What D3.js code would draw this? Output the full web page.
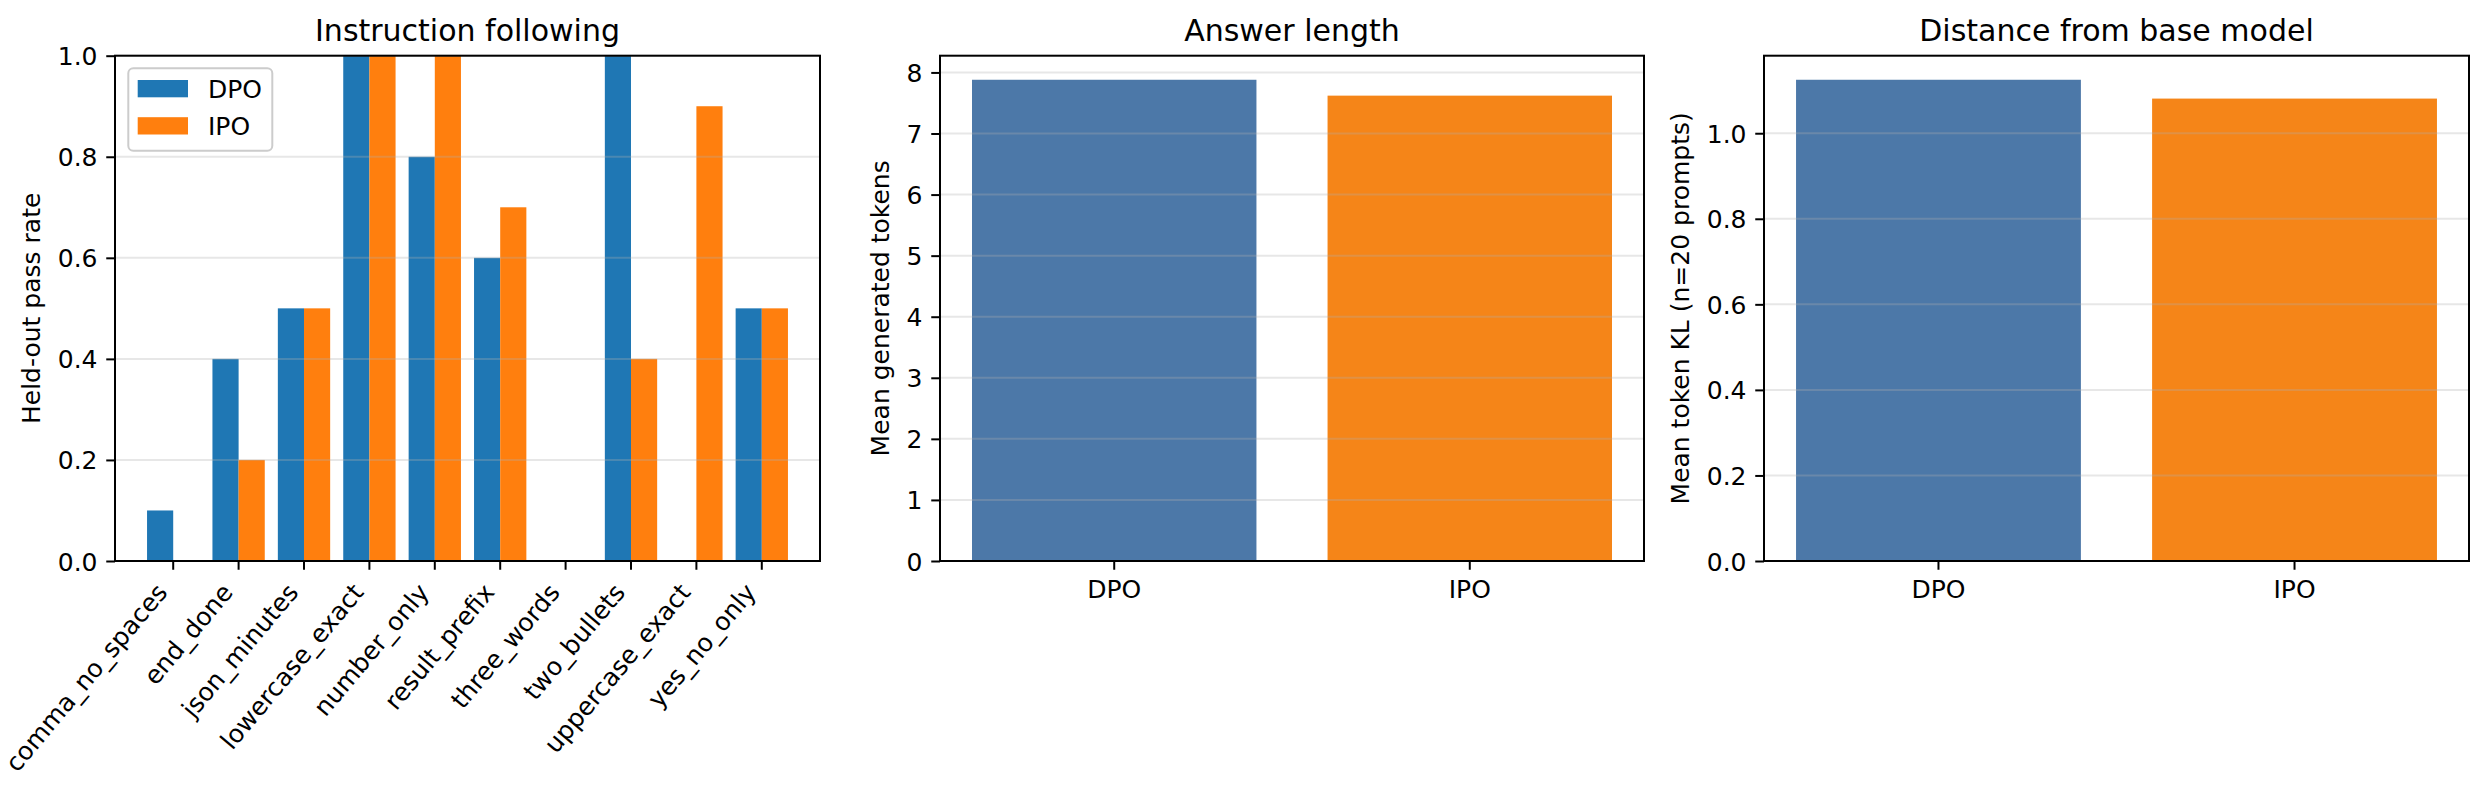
<!DOCTYPE html>
<html>
<head>
<meta charset="utf-8">
<script src="https://cdn.jsdelivr.net/npm/d3@7"></script>
<style>
  body { margin: 0; background: #fff; }
  svg text { font-family: "DejaVu Sans", sans-serif; fill: #000; }
</style>
</head>
<body>
<div id="the_chart"></div>
<script>
// instruction following, held-out pass rate per task
let tasks = ["comma_no_spaces", "end_done", "json_minutes", "lowercase_exact", "number_only",
             "result_prefix", "three_words", "two_bullets", "uppercase_exact", "yes_no_only"];
let dpo_pass = [0.1, 0.4, 0.5, 1.0, 0.8, 0.6, 0.0, 1.0, 0.0, 0.5];
let ipo_pass = [0.0, 0.2, 0.5, 1.0, 1.0, 0.7, 0.0, 0.4, 0.9, 0.5];
let pass_ticks = [0, 0.2, 0.4, 0.6, 0.8, 1.0];

// answer length + distance from base
let methods = ["DPO", "IPO"];
let answer_len = [7.88, 7.62];
let len_ticks = [0, 1, 2, 3, 4, 5, 6, 7, 8];
let token_kl = [1.125, 1.081];
let kl_ticks = [0, 0.2, 0.4, 0.6, 0.8, 1.0];

let w = 2486, h = 803;
let top_y = 55.7, bot_y = 561;
let fs = 25;     // 10pt @ 180dpi
let tick_len = 8.75;
let lw = 2;

let svg = d3.select("#the_chart").append("svg")
    .attr("width", w)
    .attr("height", h);
svg.append("rect").attr("width", w).attr("height", h).attr("fill", "white");

function draw_frame(g, left, right, yscale, ticks, fmt, title, ylabel, label_w) {
    // grid (drawn over the bars, like matplotlib's default)
    let grid = g.append("g");
    grid.selectAll("line")
        .data(ticks)
        .enter().append("line")
        .attr("x1", left).attr("x2", right)
        .attr("y1", d => yscale(d)).attr("y2", d => yscale(d))
        .attr("stroke", "#b0b0b0")
        .attr("stroke-opacity", 0.3)
        .attr("stroke-width", 2);

    let yaxis = d3.axisLeft(yscale)
        .tickValues(ticks)
        .tickFormat(fmt)
        .tickSize(tick_len)
        .tickPadding(8.75);
    let ax = g.append("g")
        .attr("transform", "translate(" + left + ",0)")
        .call(yaxis);
    ax.select(".domain").remove();
    ax.selectAll(".tick line").attr("stroke", "#000").attr("stroke-width", lw);
    ax.selectAll(".tick text")
        .attr("font-size", fs)
        .attr("font-family", "DejaVu Sans")
        .attr("dy", "0.36em");

    g.append("rect")
        .attr("x", left).attr("y", top_y)
        .attr("width", right - left).attr("height", bot_y - top_y)
        .attr("fill", "none")
        .attr("stroke", "#000")
        .attr("stroke-width", lw);

    g.append("text")
        .attr("x", (left + right) / 2)
        .attr("y", 40.5)
        .attr("text-anchor", "middle")
        .attr("font-size", 30)
        .text(title);

    let lx = left - 17.5 - label_w - 17.7;
    g.append("text")
        .attr("transform", "translate(" + lx + "," + ((top_y + bot_y) / 2) + ") rotate(-90)")
        .attr("text-anchor", "middle")
        .attr("font-size", fs)
        .text(ylabel);
}

// ---------- panel 1 : grouped bars ----------
(function () {
    let left = 115, right = 820;
    let g = svg.append("g");
    let xscale = d3.scaleLinear().domain([-0.89, 9.89]).range([left, right]);
    let yscale = d3.scaleLinear().domain([0, 1]).range([bot_y, top_y]);

    g.selectAll("rect.dpo")
        .data(dpo_pass)
        .enter().append("rect")
        .attr("class", "dpo")
        .attr("x", (d, i) => xscale(i - 0.4))
        .attr("width", (d, i) => xscale(i) - xscale(i - 0.4))
        .attr("y", d => yscale(d))
        .attr("height", d => bot_y - yscale(d))
        .attr("fill", "#1f77b4");
    g.selectAll("rect.ipo")
        .data(ipo_pass)
        .enter().append("rect")
        .attr("class", "ipo")
        .attr("x", (d, i) => xscale(i))
        .attr("width", (d, i) => xscale(i + 0.4) - xscale(i))
        .attr("y", d => yscale(d))
        .attr("height", d => bot_y - yscale(d))
        .attr("fill", "#ff7f0e");

    draw_frame(g, left, right, yscale, pass_ticks, d3.format(".1f"),
        "Instruction following", "Held-out pass rate", 39.75);

    // x ticks + rotated labels
    let xt = g.append("g").selectAll("g")
        .data(tasks)
        .enter().append("g")
        .attr("transform", (d, i) => "translate(" + xscale(i) + "," + bot_y + ")");
    xt.append("line")
        .attr("y2", tick_len)
        .attr("stroke", "#000")
        .attr("stroke-width", lw);
    xt.append("text")
        .attr("transform", "translate(-4.5,32) rotate(-50)")
        .attr("text-anchor", "end")
        .attr("font-size", fs)
        .text(d => d);

    // legend
    let lg = g.append("g");
    lg.append("rect")
        .attr("x", 128.3).attr("y", 68.3)
        .attr("width", 144).attr("height", 82.4)
        .attr("rx", 5)
        .attr("fill", "white")
        .attr("fill-opacity", 0.8)
        .attr("stroke", "#cccccc")
        .attr("stroke-width", 2);
    let items = lg.selectAll("g")
        .data([["DPO", "#1f77b4"], ["IPO", "#ff7f0e"]])
        .enter().append("g")
        .attr("transform", (d, i) => "translate(0," + (i * 37.2) + ")");
    items.append("rect")
        .attr("x", 137.7).attr("y", 80)
        .attr("width", 50.3).attr("height", 17.3)
        .attr("fill", d => d[1]);
    items.append("text")
        .attr("x", 208).attr("y", 97.5)
        .attr("font-size", fs)
        .text(d => d[0]);
})();

// ---------- panels 2 & 3 : two bars ----------
function two_bar_panel(left, right, values, ticks, fmt, title, ylabel, label_w) {
    let g = svg.append("g");
    let colors = ["#4c78a8", "#f58518"];
    let xscale = d3.scaleLinear().domain([-0.49, 1.49]).range([left, right]);
    let yscale = d3.scaleLinear().domain([0, d3.max(values) * 1.05]).range([bot_y, top_y]);

    g.selectAll("rect.bar")
        .data(values)
        .enter().append("rect")
        .attr("class", "bar")
        .attr("x", (d, i) => xscale(i - 0.4))
        .attr("width", (d, i) => xscale(i + 0.4) - xscale(i - 0.4))
        .attr("y", d => yscale(d))
        .attr("height", d => bot_y - yscale(d))
        .attr("fill", (d, i) => colors[i]);

    draw_frame(g, left, right, yscale, ticks, fmt, title, ylabel, label_w);

    let xt = g.append("g").selectAll("g")
        .data(methods)
        .enter().append("g")
        .attr("transform", (d, i) => "translate(" + xscale(i) + "," + bot_y + ")");
    xt.append("line")
        .attr("y2", tick_len)
        .attr("stroke", "#000")
        .attr("stroke-width", lw);
    xt.append("text")
        .attr("y", 36.5)
        .attr("text-anchor", "middle")
        .attr("font-size", fs)
        .text(d => d);
}

two_bar_panel(940, 1644, answer_len, len_ticks, d3.format("d"),
    "Answer length", "Mean generated tokens", 15.9);
two_bar_panel(1764, 2469, token_kl, kl_ticks, d3.format(".1f"),
    "Distance from base model", "Mean token KL (n=20 prompts)", 39.75);
</script>
</body>
</html>
